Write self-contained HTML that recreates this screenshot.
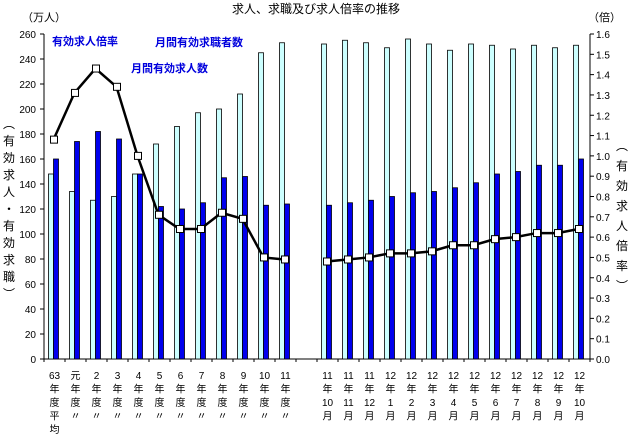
<!DOCTYPE html>
<html><head><meta charset="utf-8">
<style>
html,body{margin:0;padding:0;background:#fff;width:632px;height:438px;overflow:hidden}
svg text{font-family:"Liberation Sans","Noto Sans CJK JP",sans-serif}
</style></head>
<body>
<svg id="chart" width="632" height="438" viewBox="0 0 632 438" xmlns="http://www.w3.org/2000/svg">
<text x="316" y="13" font-size="12" text-anchor="middle">求人、求職及び求人倍率の推移</text>
<text x="22" y="21" font-size="11">（万人）</text>
<text x="588" y="21" font-size="11">（倍）</text>
<text x="52" y="45" font-size="11" fill="#0000dd" font-weight="bold">有効求人倍率</text>
<text x="155" y="46" font-size="11" fill="#0000dd" font-weight="bold">月間有効求職者数</text>
<text x="131" y="72" font-size="11" fill="#0000dd" font-weight="bold">月間有効求人数</text>
<g id="axes"></g><g id="bars"></g><g id="line"></g><g id="labels"></g>
</svg>
<script>
const categories=["63","元","2","3","4","5","6","7","8","9","10","11",null,"11/10","11/11","11/12","12/1","12/2","12/3","12/4","12/5","12/6","12/7","12/8","12/9","12/10"];
const seekers=[148,134,127,130,148,172,186,197,200,212,245,253,null,252,255,253,249,256,252,247,252,251,248,251,249,251];
const offers=[160,174,182,176,148,122,120,125,145,146,123,124,null,123,125,127,130,133,134,137,141,148,150,155,155,160];
const ratio=[1.08,1.31,1.43,1.34,1.00,0.71,0.64,0.64,0.72,0.69,0.50,0.49,null,0.48,0.49,0.50,0.52,0.52,0.53,0.56,0.56,0.59,0.60,0.62,0.62,0.64];
const leftTicks=[0,20,40,60,80,100,120,140,160,180,200,220,240,260];
const rightTicks=["0.0","0.1","0.2","0.3","0.4","0.5","0.6","0.7","0.8","0.9","1.0","1.1","1.2","1.3","1.4","1.5","1.6"];
const NS="http://www.w3.org/2000/svg";
const X0=44,X1=590,Y0=359,Y1=34;
const slot=(X1-X0)/categories.length;
const xc=i=>X0+slot*(i+0.5);
const yL=v=>Y0-(v/260)*(Y0-Y1);
const yR=v=>Y0-(v/1.6)*(Y0-Y1);
function mk(tag,attrs,parent){const e=document.createElementNS(NS,tag);for(const k in attrs)e.setAttribute(k,attrs[k]);document.getElementById(parent).appendChild(e);return e;}
let e=mk('line',{x1:X0,y1:Y1,x2:X0,y2:Y0,stroke:'#000'},'axes');


e=mk('line',{x1:X1,y1:Y1,x2:X1,y2:Y0,stroke:'#000'},'axes');


e=mk('line',{x1:X0,y1:Y0,x2:X1,y2:Y0,stroke:'#000'},'axes');


leftTicks.forEach(v=>{const y=yL(v);mk('line',{x1:X0-4,y1:y,x2:X0,y2:y,stroke:'#000'},'axes');
 const t=mk('text',{x:X0-8,y:y+4,'font-size':10,'text-anchor':'end'},'axes');t.textContent=v;
 
 });
rightTicks.forEach(v=>{const y=yR(parseFloat(v));mk('line',{x1:X1,y1:y,x2:X1+4,y2:y,stroke:'#000'},'axes');
 const t=mk('text',{x:X1+6,y:y+4,'font-size':10},'axes');t.textContent=v;
 
 });
for(let i=0;i<=categories.length;i++){const x=X0+slot*i;mk('line',{x1:x,y1:Y0,x2:x,y2:Y0+3,stroke:'#000'},'axes');}
const lt="︵有効求人・有効求職︶".split("");
lt.forEach((c,i)=>{const t=mk('text',{x:9,y:128+i*17,'font-size':12,'text-anchor':'middle'},'axes');t.textContent=c;
 
 });
const rt="︵有効求人倍率︶".split("");
rt.forEach((c,i)=>{const t=mk('text',{x:622,y:150+i*20,'font-size':12,'text-anchor':'middle'},'axes');t.textContent=c;
 
 });
categories.forEach((c,i)=>{if(c===null)return;const x=xc(i);
 let b=mk('rect',{x:x-6,y:yL(seekers[i]),width:5,height:Y0-yL(seekers[i]),fill:'#ccffff',stroke:'#000','stroke-width':0.8},'bars');
 
 
 b=mk('rect',{x:x-1,y:yL(offers[i]),width:5,height:Y0-yL(offers[i]),fill:'#0000ee',stroke:'#000','stroke-width':0.8},'bars');
 
 });
let seg=[],segs=[];
ratio.forEach((v,i)=>{if(v===null){segs.push(seg);seg=[];}else seg.push([xc(i)-1,yR(v)]);});segs.push(seg);
segs.forEach(s=>{const p=mk('polyline',{points:s.map(q=>q.join(',')).join(' '),fill:'none',stroke:'#000','stroke-width':2.5},'line');
 
 });
ratio.forEach((v,i)=>{if(v===null)return;const m=mk('rect',{x:xc(i)-4,y:yR(v)-3.5,width:7,height:7,fill:'#fff',stroke:'#000','stroke-width':1},'line');
 
 });
categories.forEach((c,i)=>{if(c===null)return;const x=xc(i);let lines;
 if(c.includes('/')){const [a,b]=c.split('/');lines=[a,'年',b,'月'];}
 else lines=i===0?[c,'年','度','平','均']:[c,'年','度','〃'];
 lines.forEach((s,k)=>{const t=mk('text',{x:x,y:379+k*13.5,'font-size':10,'text-anchor':'middle'},'labels');t.textContent=s;
  
  });});
</script>
</body></html>
